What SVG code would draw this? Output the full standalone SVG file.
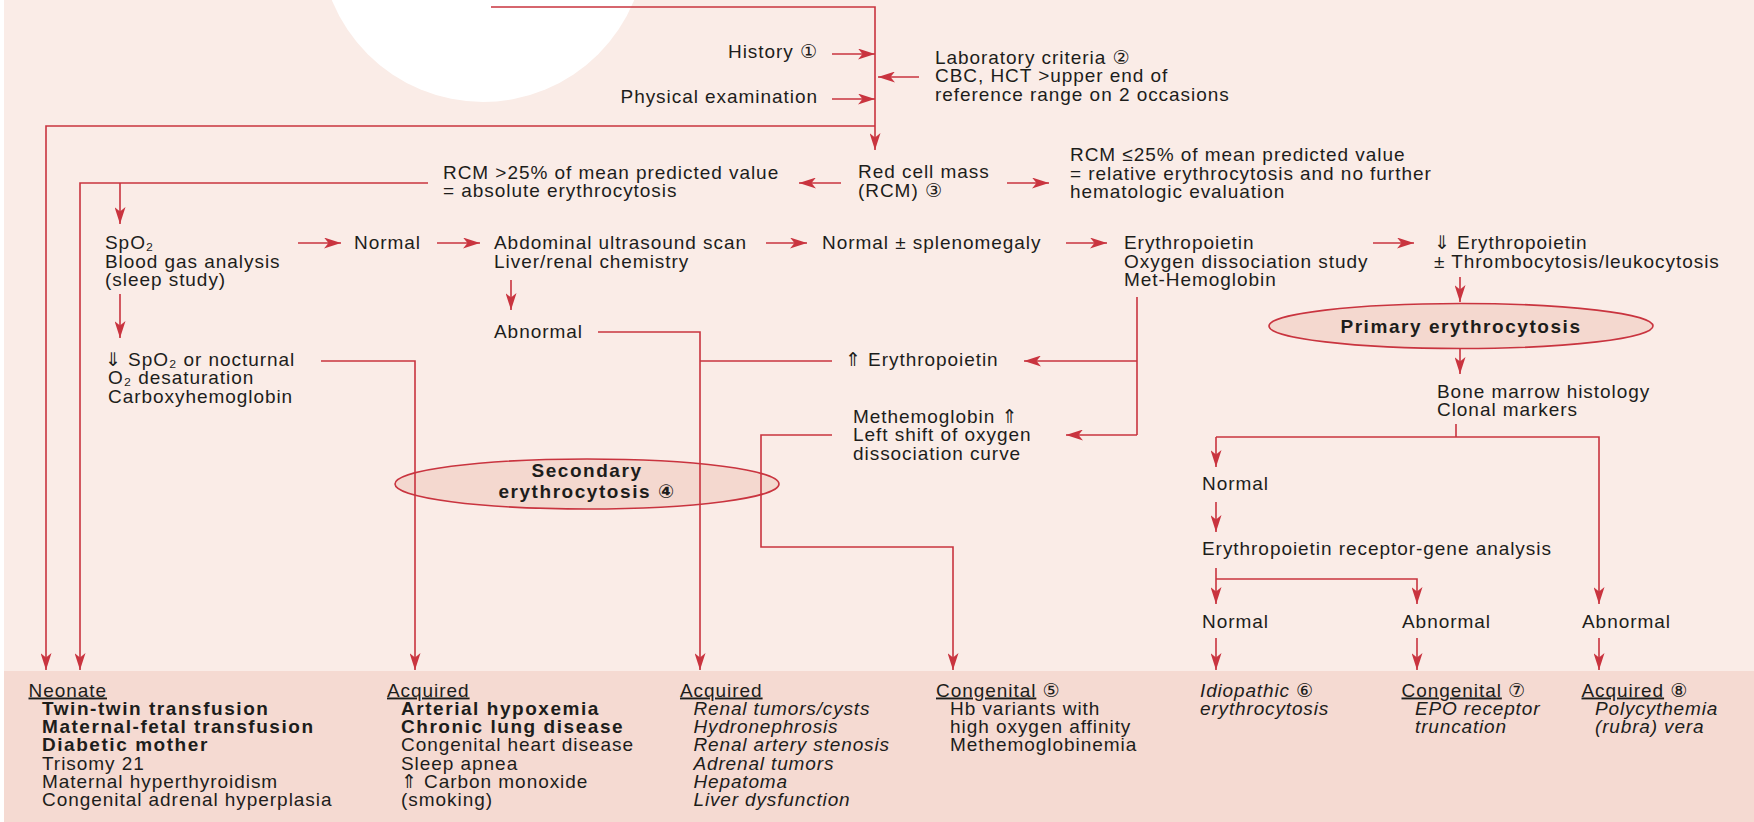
<svg xmlns="http://www.w3.org/2000/svg" width="1754" height="822" viewBox="0 0 1754 822">
<defs>
<style>
.t{font-family:"Liberation Sans",Arial,"DejaVu Sans",sans-serif;font-size:19px;letter-spacing:0.95px;fill:#1d1d1b}
.b{font-weight:bold;letter-spacing:1.55px}
.i{font-style:italic;letter-spacing:0.85px}
.u{text-decoration:underline}
.m{text-anchor:middle}
.e{text-anchor:end}
.c{fill:none;stroke:#C9343F;stroke-width:1.6}
.a{marker-end:url(#ah)}
.el{fill:#F4D8CF;stroke:#C9343F;stroke-width:1.6}
</style>
<marker id="ah" markerUnits="userSpaceOnUse" markerWidth="18" markerHeight="11" refX="17" refY="5.5" orient="auto">
<path d="M0,0 L17,5.5 L0,11 L4.5,5.5 Z" fill="#C9343F"/>
</marker>
</defs>
<rect x="0" y="0" width="1754" height="822" fill="#ffffff"/>
<rect x="4" y="0" width="1750" height="822" fill="#FAECE7"/>
<rect x="4" y="671" width="1750" height="151" fill="#F5DAD2"/>
<circle cx="483" cy="-61" r="163" fill="#ffffff"/>

<g id="ellipses">
<ellipse id="secondary-shape" class="el" cx="587" cy="484" rx="192" ry="25"/>
<ellipse id="primary-shape" class="el" cx="1461" cy="326" rx="192" ry="22.5"/>
</g>

<g id="connectors">
<polyline class="c a" points="491,7 875,7 875,150"/>
<line class="c a" x1="832" y1="54" x2="875" y2="54"/>
<line class="c a" x1="832" y1="99" x2="875" y2="99"/>
<line class="c a" x1="919" y1="77" x2="878" y2="77"/>
<polyline class="c a" points="875,126 46,126 46,670"/>
<line class="c a" x1="1007" y1="183" x2="1049" y2="183"/>
<line class="c a" x1="841" y1="183" x2="799" y2="183"/>
<polyline class="c a" points="428,183 80,183 80,670"/>
<line class="c a" x1="120" y1="183" x2="120" y2="224"/>
<line class="c a" x1="298" y1="243" x2="341" y2="243"/>
<line class="c a" x1="437" y1="243" x2="480" y2="243"/>
<line class="c a" x1="766" y1="243" x2="807" y2="243"/>
<line class="c a" x1="1066" y1="243" x2="1107" y2="243"/>
<line class="c a" x1="1373" y1="243" x2="1414" y2="243"/>
<line class="c a" x1="120" y1="294" x2="120" y2="338"/>
<line class="c a" x1="511" y1="280" x2="511" y2="310"/>
<line class="c a" x1="1460" y1="277" x2="1460" y2="302"/>
<line class="c a" x1="1460" y1="348" x2="1460" y2="374"/>
<polyline class="c a" points="598,332 700,332 700,670"/>
<line class="c" x1="832" y1="361" x2="700" y2="361"/>
<line class="c" x1="1137" y1="297" x2="1137" y2="435"/>
<line class="c a" x1="1137" y1="361" x2="1024" y2="361"/>
<line class="c a" x1="1137" y1="435" x2="1066" y2="435"/>
<polyline class="c a" points="321,361 415,361 415,670"/>
<polyline class="c a" points="832,435 761,435 761,547 953,547 953,670"/>
<line class="c" x1="1456" y1="424" x2="1456" y2="437"/>
<polyline class="c a" points="1216,437 1599,437 1599,604"/>
<line class="c a" x1="1216" y1="437" x2="1216" y2="467"/>
<line class="c a" x1="1216" y1="502" x2="1216" y2="532"/>
<line class="c a" x1="1216" y1="568" x2="1216" y2="604"/>
<polyline class="c a" points="1216,579 1417,579 1417,604"/>
<line class="c a" x1="1216" y1="638" x2="1216" y2="670"/>
<line class="c a" x1="1417" y1="638" x2="1417" y2="670"/>
<line class="c a" x1="1599" y1="638" x2="1599" y2="670"/>
</g>

<g id="history"><text class="t e" x="818" y="58">History ①</text></g>
<g id="physical"><text class="t e" x="818" y="103">Physical examination</text></g>
<g id="lab"><text class="t" x="935" y="63.5">Laboratory criteria ②</text>
<text class="t" x="935" y="82">CBC, HCT &gt;upper end of</text>
<text class="t" x="935" y="100.5">reference range on 2 occasions</text></g>
<g id="rcm"><text class="t" x="858" y="178">Red cell mass</text>
<text class="t" x="858" y="196.5">(RCM) ③</text></g>
<g id="rcm-low"><text class="t" x="1070" y="161">RCM ≤25% of mean predicted value</text>
<text class="t" x="1070" y="179.5">= relative erythrocytosis and no further</text>
<text class="t" x="1070" y="198">hematologic evaluation</text></g>
<g id="rcm-high"><text class="t" x="443" y="178.5">RCM &gt;25% of mean predicted value</text>
<text class="t" x="443" y="197">= absolute erythrocytosis</text></g>

<g id="spo2"><text class="t" x="105" y="249">SpO₂</text>
<text class="t" x="105" y="267.5">Blood gas analysis</text>
<text class="t" x="105" y="286">(sleep study)</text></g>
<g id="normal1"><text class="t" x="354" y="249">Normal</text></g>
<g id="abdominal"><text class="t" x="494" y="249">Abdominal ultrasound scan</text>
<text class="t" x="494" y="267.5">Liver/renal chemistry</text></g>
<g id="normal-spleno"><text class="t" x="822" y="249">Normal ± splenomegaly</text></g>
<g id="epo-test"><text class="t" x="1124" y="249">Erythropoietin</text>
<text class="t" x="1124" y="267.5">Oxygen dissociation study</text>
<text class="t" x="1124" y="286">Met-Hemoglobin</text></g>
<g id="epo-low"><text class="t" x="1434" y="249">⇓ Erythropoietin</text>
<text class="t" x="1434" y="267.5">± Thrombocytosis/leukocytosis</text></g>

<g id="abnormal1"><text class="t" x="494" y="337.5">Abnormal</text></g>
<g id="epo-high"><text class="t" x="845" y="365.5">⇑ Erythropoietin</text></g>
<g id="spo2-low"><text class="t" x="105" y="365.5">⇓ SpO₂ or nocturnal</text>
<text class="t" x="108" y="384">O₂ desaturation</text>
<text class="t" x="108" y="402.5">Carboxyhemoglobin</text></g>
<g id="methb"><text class="t" x="853" y="422.5">Methemoglobin ⇑</text>
<text class="t" x="853" y="441">Left shift of oxygen</text>
<text class="t" x="853" y="459.5">dissociation curve</text></g>
<g id="secondary"><text class="t b m" x="587" y="477">Secondary</text>
<text class="t b m" x="587" y="497.5">erythrocytosis ④</text></g>
<g id="primary"><text class="t b m" x="1461" y="333">Primary erythrocytosis</text></g>
<g id="marrow"><text class="t" x="1437" y="397.5">Bone marrow histology</text>
<text class="t" x="1437" y="416">Clonal markers</text></g>
<g id="normal2"><text class="t" x="1202" y="490">Normal</text></g>
<g id="epor"><text class="t" x="1202" y="555">Erythropoietin receptor-gene analysis</text></g>
<g id="normal3"><text class="t" x="1202" y="628">Normal</text></g>
<g id="abnormal2"><text class="t" x="1402" y="628">Abnormal</text></g>
<g id="abnormal3"><text class="t" x="1582" y="628">Abnormal</text></g>

<g id="neonate"><text class="t" x="28.5" y="696.5"><tspan class="u">Neonate</tspan></text>
<text class="t b" x="42" y="714.8">Twin-twin transfusion</text>
<text class="t b" x="42" y="733.1">Maternal-fetal transfusion</text>
<text class="t b" x="42" y="751.4">Diabetic mother</text>
<text class="t" x="42" y="769.7">Trisomy 21</text>
<text class="t" x="42" y="788">Maternal hyperthyroidism</text>
<text class="t" x="42" y="806.3">Congenital adrenal hyperplasia</text></g>
<g id="acquired-hypoxic"><text class="t" x="387" y="696.5"><tspan class="u">Acquired</tspan></text>
<text class="t b" x="401" y="714.8">Arterial hypoxemia</text>
<text class="t b" x="401" y="733.1">Chronic lung disease</text>
<text class="t" x="401" y="751.4">Congenital heart disease</text>
<text class="t" x="401" y="769.7">Sleep apnea</text>
<text class="t" x="401" y="788">⇑ Carbon monoxide</text>
<text class="t" x="401" y="806.3">(smoking)</text></g>
<g id="acquired-renal"><text class="t" x="680" y="696.5"><tspan class="u">Acquired</tspan></text>
<text class="t i" x="693.5" y="714.8">Renal tumors/cysts</text>
<text class="t i" x="693.5" y="733.1">Hydronephrosis</text>
<text class="t i" x="693.5" y="751.4">Renal artery stenosis</text>
<text class="t i" x="693.5" y="769.7">Adrenal tumors</text>
<text class="t i" x="693.5" y="788">Hepatoma</text>
<text class="t i" x="693.5" y="806.3">Liver dysfunction</text></g>
<g id="congenital5"><text class="t" x="936" y="696.5"><tspan class="u">Congenital</tspan> ⑤</text>
<text class="t" x="950" y="714.8">Hb variants with</text>
<text class="t" x="950" y="733.1">high oxygen affinity</text>
<text class="t" x="950" y="751.4">Methemoglobinemia</text></g>
<g id="idiopathic"><text class="t i" x="1200" y="696.5">Idiopathic ⑥</text>
<text class="t i" x="1200" y="714.8">erythrocytosis</text></g>
<g id="congenital7"><text class="t" x="1401.5" y="696.5"><tspan class="u">Congenital</tspan> ⑦</text>
<text class="t i" x="1415" y="714.8">EPO receptor</text>
<text class="t i" x="1415" y="733.1">truncation</text></g>
<g id="acquired8"><text class="t" x="1581.5" y="696.5"><tspan class="u">Acquired</tspan> ⑧</text>
<text class="t i" x="1595" y="714.8">Polycythemia</text>
<text class="t i" x="1595" y="733.1">(rubra) vera</text></g>
</svg>
